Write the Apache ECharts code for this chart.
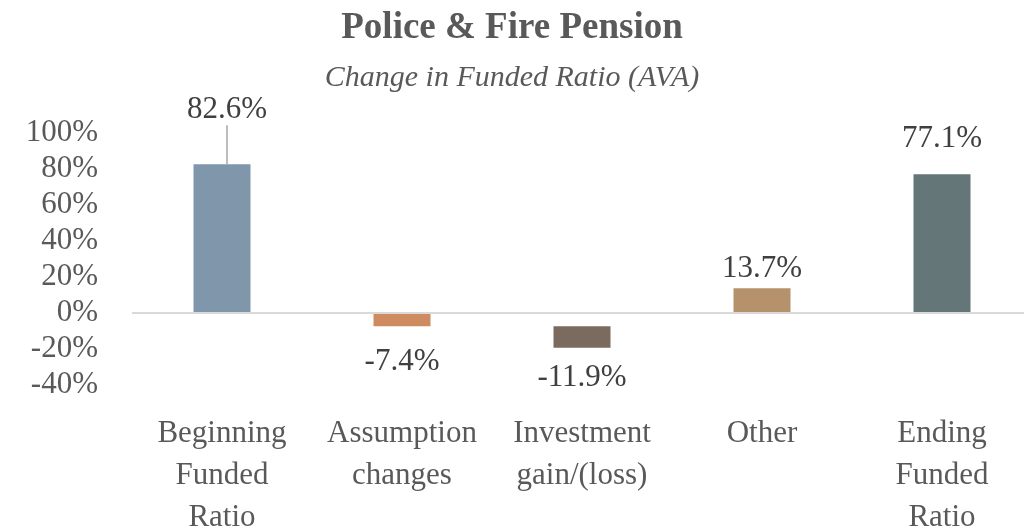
<!DOCTYPE html>
<html>
<head>
<meta charset="utf-8">
<script src="https://cdn.jsdelivr.net/npm/echarts@6/dist/echarts.min.js"></script>
<style>
  html, body { margin: 0; padding: 0; background: #fff; }
  #chart { width: 1024px; height: 531px; }
</style>
</head>
<body>
<div id="chart"></div>
<script>
  // categories (line breaks as in the original layout)
  let categories = ['Beginning\nFunded\nRatio', 'Assumption\nchanges', 'Investment\ngain/(loss)', 'Other', 'Ending\nFunded\nRatio']
  // change in funded ratio, %
  let changes = [82.6, -7.4, -11.9, 13.7, 77.1]
  // invisible base the floating bars sit on, %
  let base = [0, 0, -7.4, 0, 0]
  let colors = ['#7f96ab', '#cd8b5f', '#7b6a5e', '#b5926b', '#657679']
  // y axis ticks, %
  let yMin = -40
  let yMax = 100
  let yStep = 20

  let font = '"Palatino Linotype", "Book Antiqua", Palatino, "Liberation Serif", serif'

  // label placement tweaks per bar (distance from bar end)
  let labelDist = [5, 20, 15, 4, 20]

  let myChart = echarts.init(document.getElementById('chart'))

  let barData = changes.map(function (v, i) {
    return {
      value: v,
      itemStyle: { color: colors[i] },
      label: {
        position: v < 0 ? 'bottom' : 'top',
        distance: labelDist[i]
      },
      labelLine: { show: i === 0 }
    }
  })

  myChart.setOption({
    animation: false,
    title: {
      text: 'Police & Fire Pension',
      subtext: 'Change in Funded Ratio (AVA)',
      left: 'center',
      top: 5,
      itemGap: 16,
      textStyle: {
        fontFamily: font,
        fontSize: 37,
        fontWeight: 'bold',
        color: '#595959'
      },
      subtextStyle: {
        fontFamily: font,
        fontSize: 30,
        fontStyle: 'italic',
        color: '#595959'
      }
    },
    grid: {
      left: 132,
      right: -8,
      top: 133,
      bottom: 146,
      containLabel: false,
      outerBoundsMode: 'none'
    },
    xAxis: {
      type: 'category',
      data: categories,
      axisTick: { show: false },
      axisLine: { show: false },
      axisLabel: {
        interval: 0,
        margin: 28,
        fontFamily: font,
        fontSize: 31,
        lineHeight: 42,
        color: '#595959'
      }
    },
    yAxis: {
      type: 'value',
      min: yMin,
      max: yMax,
      interval: yStep,
      splitLine: { show: false },
      axisLine: { show: false },
      axisTick: { show: false },
      axisLabel: {
        margin: 34,
        fontFamily: font,
        fontSize: 31,
        color: '#595959',
        formatter: '{value}%'
      }
    },
    series: [{
      name: 'base',
      type: 'bar',
      stack: 'w',
      data: base,
      barWidth: 57,
      itemStyle: { color: 'transparent' },
      silent: true
    }, {
      name: 'change',
      type: 'bar',
      stack: 'w',
      data: barData,
      barWidth: 57,
      label: {
        show: true,
        fontFamily: font,
        fontSize: 31,
        color: '#404040',
        formatter: function (p) { return p.value.toFixed(1) + '%' }
      },
      labelLine: {
        lineStyle: { color: '#a6a6a6', width: 1.5 }
      },
      labelLayout: function (p) {
        if (p.dataIndex === 0) return { dy: -34, dx: 5 }
        return {}
      },
      markLine: {
        silent: true,
        symbol: 'none',
        label: { show: false },
        lineStyle: { color: '#d9d9d9', width: 2, type: 'solid' },
        data: [{ yAxis: 0 }]
      }
    }]
  })
</script>
</body>
</html>
